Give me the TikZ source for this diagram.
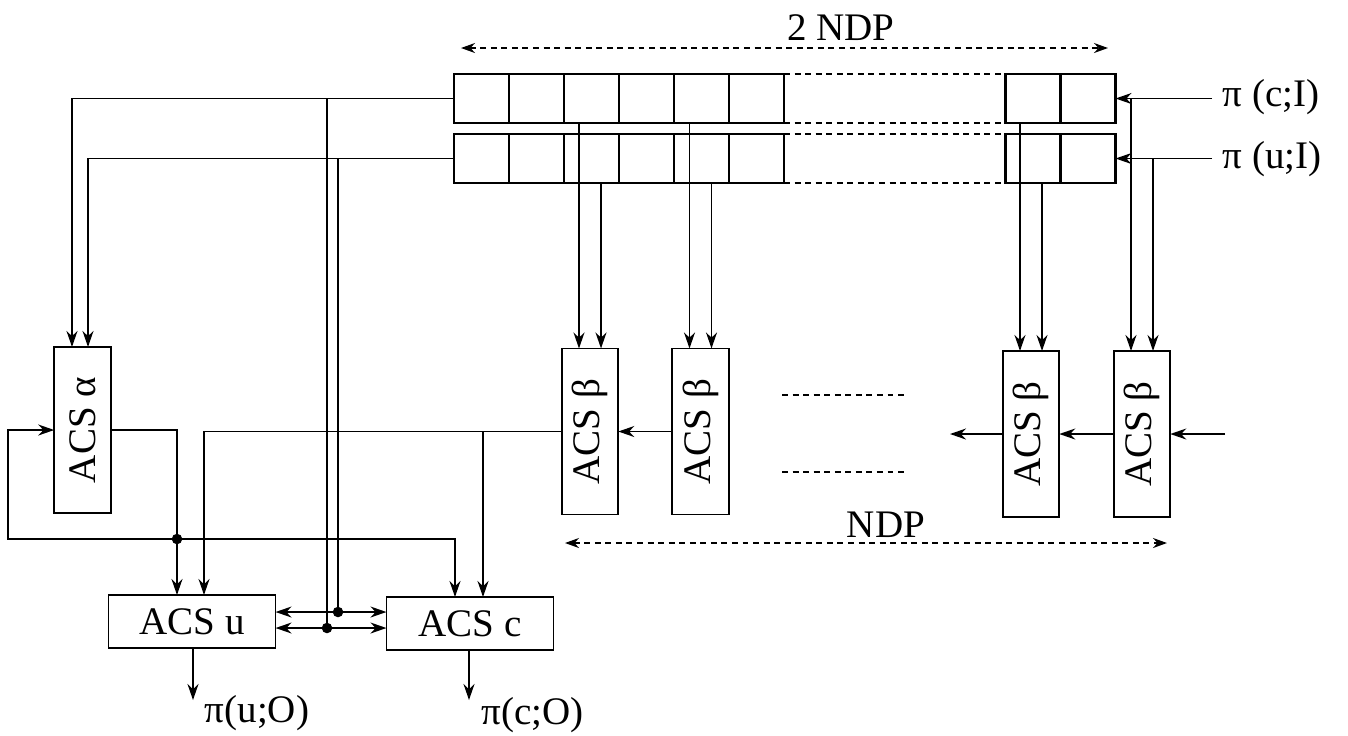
\documentclass[tikz,border=0pt]{standalone}
\usepackage{fontspec}
\setmainfont{Liberation Serif}
\usetikzlibrary{arrows.meta,positioning}

\begin{document}
\begin{tikzpicture}[
  x=0.01cm,y=-0.01cm,
  line width=0.5pt,
  every node/.style={font=\fontsize{11.1}{13}\selectfont},
  cell/.style={draw,line width=0.6pt,minimum width=0.55cm,minimum height=0.49cm,inner sep=0pt,outer sep=0pt},
  vbox/.style={draw,minimum width=0.565cm,minimum height=1.66cm,inner sep=0pt,outer sep=0pt},
  hbox/.style={draw,minimum width=1.67cm,minimum height=0.53cm,inner sep=0pt,outer sep=0pt},
  sig/.style={-{Stealth[length=1.6mm,width=1.1mm]}},
  sigsig/.style={{Stealth[length=1.6mm,width=1.1mm]}-{Stealth[length=1.6mm,width=1.1mm]}},
  span/.style={{Stealth[length=1.4mm,width=1mm]}-{Stealth[length=1.4mm,width=1mm]},dash pattern=on 1.7pt off 1.3pt},
  gap/.style={dash pattern=on 1.7pt off 1.3pt},
  dot/.style={circle,fill,inner sep=0pt,minimum size=3pt}
]
  \useasboundingbox (0,0) rectangle (1348,735);

  % registers
  \foreach \i in {1,...,6}{
    \node[cell] (c\i) at ({481.5+55*(\i-1)},98.5) {};
    \node[cell] (u\i) at ({481.5+55*(\i-1)},158.5) {};
  }
  \node[cell] (cA) at (1033,98.5) {};
  \node[cell] (cB) at (1088,98.5) {};
  \node[cell] (uA) at (1033,158.5) {};
  \node[cell] (uB) at (1088,158.5) {};
  \draw[gap] (c6.north east) -- (cA.north west);
  \draw[gap] (c6.south east) -- (cA.south west);
  \draw[gap] (u6.north east) -- (uA.north west);
  \draw[gap] (u6.south east) -- (uA.south west);

  \coordinate (ndpa) at (461,48);
  \coordinate (ndpb) at (1108,48);
  \draw[span] (ndpa) -- (ndpb);
  \node (ndptop) at (841,28) {2 NDP};

  \node[anchor=west,inner sep=0.1cm] (inc) at (1212,97) {π (c;I)};
  \node[anchor=west,inner sep=0.1cm] (inu) at (1212,159) {π (u;I)};
  \draw[sig] (inc.west |- cB.east) -- (cB.east);
  \draw[sig] (inu.west |- uB.east) -- (uB.east);

  % ACS beta row
  \foreach \n/\x/\y in {b1/590/431.5,b2/700.5/431.5,b3/1031/434,b4/1142/434}{
    \node[vbox] (\n) at (\x,\y) {};
    \node[rotate=90] at (\n) {ACS β};
  }
  \draw[sig] ([xshift=-0.11cm]b1.north |- c1.south) -- ([xshift=-0.11cm]b1.north);
  \draw[sig] ([xshift=0.11cm]b1.north |- u1.south) -- ([xshift=0.11cm]b1.north);
  \draw[sig] ([xshift=-0.11cm]b2.north |- c1.south) -- ([xshift=-0.11cm]b2.north);
  \draw[sig] ([xshift=0.11cm]b2.north |- u1.south) -- ([xshift=0.11cm]b2.north);
  \draw[sig] ([xshift=-0.11cm]b3.north |- cA.south) -- ([xshift=-0.11cm]b3.north);
  \draw[sig] ([xshift=0.11cm]b3.north |- uA.south) -- ([xshift=0.11cm]b3.north);
  \draw[sig] ([xshift=-0.11cm]b4.north |- cB.east) -- ([xshift=-0.11cm]b4.north);
  \draw[sig] ([xshift=0.11cm]b4.north |- uB.east) -- ([xshift=0.11cm]b4.north);

  \draw[gap] (782,395) -- (908,395);
  \draw[gap] (782,472) -- (908,472);
  \draw[sig] (b2.west) -- (b1.east);
  \draw[sig] (b4.west) -- (b3.east);
  \coordinate (bout) at (950,434);
  \coordinate (bin) at (1225,434);
  \draw[sig] (b3.west) -- (bout);
  \draw[sig] (bin) -- (b4.east);

  \coordinate (ndpc) at (565,543);
  \coordinate (ndpd) at (1167,543);
  \draw[span] (ndpc) -- (ndpd);
  \node (ndpbot) at (886,525) {NDP};

  % ACS alpha
  \node[vbox] (alpha) at (82.5,430) {};
  \node[rotate=90] at (alpha) {ACS α};
  \draw[sig] (c1.west) -| ([xshift=-0.105cm]alpha.north);
  \draw[sig] (u1.west) -| ([xshift=0.055cm]alpha.north);

  % ACS u / ACS c
  \node[hbox] (acsu) at (192,621.5) {ACS u};
  \node[hbox] (acsc) at (470,623.5) {ACS c};

  \draw[sig] (alpha.east) -| ([xshift=-0.15cm]acsu.north);
  \coordinate (fb) at (177,539);
  \draw[sig] (fb) -- (8,539) |- (alpha.west);
  \draw[sig] (fb) -| ([xshift=-0.15cm]acsc.north);
  \node[dot] (fbdot) at (fb) {};

  \draw[sig] (b1.west) -| ([xshift=0.12cm]acsu.north);
  \coordinate (tapb) at ([xshift=0.13cm]acsc.north |- b1.west);
  \draw[sig] (tapb) -- ([xshift=0.13cm]acsc.north);

  \coordinate (busu) at (338,612);
  \coordinate (busc) at (327,628);
  \draw[sigsig] (acsu.east |- busu) -- (acsc.west |- busu);
  \draw[sigsig] (acsu.east |- busc) -- (acsc.west |- busc);
  \draw (busu |- u1.west) -- (busu);
  \draw (busc |- c1.west) -- (busc);
  \node[dot] (busudot) at (busu) {};
  \node[dot] (buscdot) at (busc) {};

  \coordinate (outu) at (193,700);
  \coordinate (outc) at (469,700);
  \draw[sig] (acsu.south -| outu) -- (outu);
  \draw[sig] (acsc.south -| outc) -- (outc);
  \node[anchor=west,inner sep=0pt] (outul) at (204,713) {π(u;O)};
  \node[anchor=west,inner sep=0pt] (outcl) at (481,715) {π(c;O)};
\end{tikzpicture}
\end{document}
